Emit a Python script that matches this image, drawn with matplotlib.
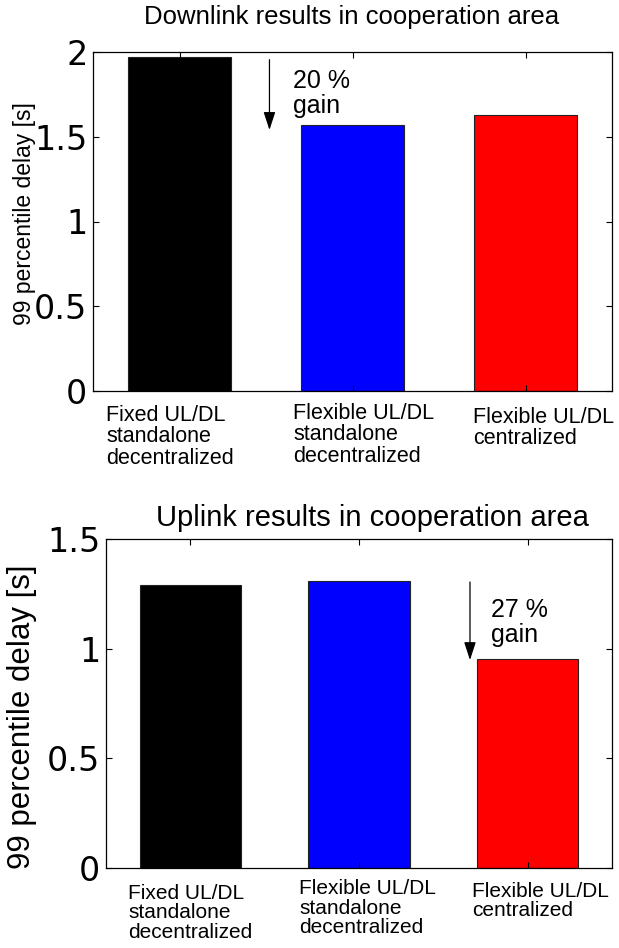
import matplotlib
matplotlib.use("Agg")
import matplotlib.pyplot as plt

categories = ["Fixed UL/DL\nstandalone\ndecentralized",
              "Flexible UL/DL\nstandalone\ndecentralized",
              "Flexible UL/DL\ncentralized"]
dl_delay = [1.97, 1.57, 1.63]
ul_delay = [1.29, 1.31, 0.955]
bar_colors = ["#000000", "#0000ff", "#ff0000"]
dl_ticks = [0, 0.5, 1, 1.5, 2]
ul_ticks = [0, 0.5, 1, 1.5]
dl_title = "Downlink results in cooperation area"
ul_title = "Uplink results in cooperation area"
ylabel = "99 percentile delay [s]"
dl_gain = "20 %\ngain"
ul_gain = "27 %\ngain"

W, H = 619, 948
fig = plt.figure(figsize=(W / 100, H / 100), dpi=100)
TXT = "Liberation Sans"

def fx(px):
    return px / W

def fy(py):
    return 1 - py / H

def make_axes(rect, vals, ticks, ylim):
    ax = fig.add_axes(rect)
    x = [1, 2, 3]
    ax.bar(x, vals, width=0.6, color=bar_colors, edgecolor="#222222", linewidth=0.8)
    ax.set_xlim(0.5, 3.5)
    ax.set_ylim(*ylim)
    ax.set_yticks(ticks)
    ax.set_yticklabels([f"{t:g}" for t in ticks], fontsize=24, family="DejaVu Sans")
    ax.set_xticks(x)
    ax.set_xticklabels([])
    ax.tick_params(direction="in", length=4, width=0.8, top=True, right=True, pad=4)
    for s in ax.spines.values():
        s.set_linewidth(0.9)
    return ax

ax1 = make_axes([fx(93), fy(391), fx(612 - 93), (391 - 52) / H], dl_delay, dl_ticks, (0, 2))
ax2 = make_axes([fx(106), fy(868), fx(612 - 106), (868 - 539) / H], ul_delay, ul_ticks, (0, 1.5))

# titles
fig.text(fx(352), fy(17), dl_title, ha="center", va="center", fontsize=18.5, family=TXT)
fig.text(fx(372), fy(518), ul_title, ha="center", va="center", fontsize=21, family=TXT)

# y labels
fig.text(fx(25), fy(214), ylabel, rotation=90, ha="center", va="center", fontsize=16.5, family=TXT)
fig.text(fx(22), fy(717), ylabel, rotation=90, ha="center", va="center", fontsize=22.5, family=TXT)

# category labels
top_pos = [(106, 437), (293, 435), (473, 428)]
bot_pos = [(128, 913), (299, 908), (472, 901)]
for lab, (px, py) in zip(categories, top_pos):
    fig.text(fx(px), fy(py), lab, ha="left", va="center", fontsize=15.5,
             family=TXT, linespacing=1.05)
for lab, (px, py) in zip(categories, bot_pos):
    fig.text(fx(px), fy(py), lab, ha="left", va="center", fontsize=15,
             family=TXT, linespacing=1.05)

# gain annotations
arrow = dict(arrowstyle="-|>,head_length=0.55,head_width=0.18", color="black",
             lw=0.9, mutation_scale=20, shrinkA=0, shrinkB=0)
ax1.annotate("", xy=(1.52, dl_delay[1] - 0.03), xytext=(1.52, dl_delay[0] - 0.015),
             arrowprops=arrow)
ax1.text(1.655, 1.755, dl_gain, ha="left", va="center", fontsize=18, family=TXT,
         linespacing=1.05)
ax2.annotate("", xy=(2.658, ul_delay[2] - 0.007), xytext=(2.658, ul_delay[1] - 0.006),
             arrowprops=arrow)
ax2.text(2.785, 1.119, ul_gain, ha="left", va="center", fontsize=18, family=TXT,
         linespacing=1.05)

fig.savefig("out.png", dpi=100)
